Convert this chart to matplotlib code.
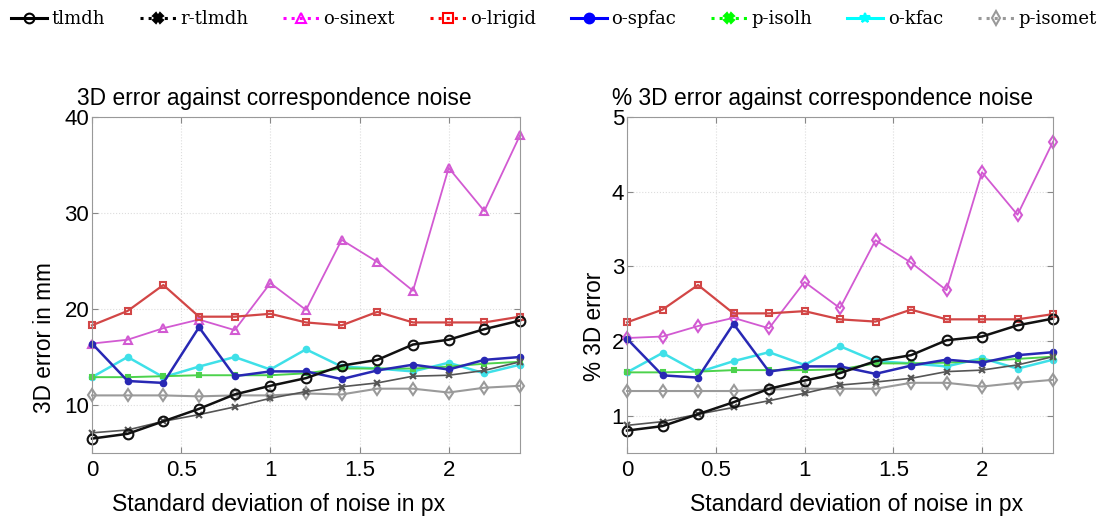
import numpy as np
import matplotlib
matplotlib.use("Agg")
import matplotlib.pyplot as plt
from matplotlib.lines import Line2D

plt.rcParams['font.family'] = 'Liberation Sans'

# noise levels (px)
noise = [0, 0.2, 0.4, 0.6, 0.8, 1.0, 1.2, 1.4, 1.6, 1.8, 2.0, 2.2, 2.4]

# 3D error in mm
mm_tlmdh = [6.5, 7.0, 8.3, 9.6, 11.1, 12.0, 12.8, 14.1, 14.7, 16.3, 16.8, 17.9, 18.8]
mm_rtlmdh = [7.1, 7.4, 8.3, 9.0, 9.8, 10.7, 11.4, 11.9, 12.3, 13.0, 13.1, 13.6, 14.5]
mm_sinext = [16.4, 16.8, 18.0, 18.9, 17.8, 22.7, 19.9, 27.2, 24.9, 21.9, 34.7, 30.2, 38.1]
mm_lrigid = [18.3, 19.8, 22.5, 19.2, 19.2, 19.5, 18.6, 18.3, 19.7, 18.6, 18.6, 18.6, 19.2]
mm_spfac = [16.4, 12.5, 12.3, 18.1, 13.0, 13.5, 13.5, 12.7, 13.6, 14.2, 13.7, 14.7, 15.0]
mm_isolh = [12.9, 12.9, 13.0, 13.1, 13.1, 13.1, 13.3, 13.8, 13.8, 13.8, 14.0, 14.3, 14.5]
mm_kfac = [12.9, 15.0, 12.9, 14.0, 15.0, 13.7, 15.8, 14.0, 13.8, 13.5, 14.4, 13.3, 14.2]
mm_isomet = [11.0, 11.0, 11.0, 10.9, 11.0, 11.0, 11.2, 11.1, 11.7, 11.7, 11.3, 11.8, 12.0]

# % 3D error
pc_tlmdh = [0.80, 0.86, 1.02, 1.18, 1.36, 1.47, 1.57, 1.73, 1.81, 2.01, 2.06, 2.21, 2.30]
pc_rtlmdh = [0.87, 0.92, 1.02, 1.11, 1.20, 1.30, 1.41, 1.45, 1.50, 1.59, 1.61, 1.68, 1.79]
pc_sinext = [2.04, 2.06, 2.20, 2.31, 2.17, 2.79, 2.44, 3.35, 3.05, 2.68, 4.26, 3.69, 4.67]
pc_lrigid = [2.25, 2.42, 2.75, 2.37, 2.37, 2.40, 2.29, 2.26, 2.42, 2.29, 2.29, 2.29, 2.36]
pc_spfac = [2.03, 1.54, 1.51, 2.23, 1.59, 1.66, 1.66, 1.56, 1.67, 1.75, 1.71, 1.81, 1.85]
pc_isolh = [1.58, 1.58, 1.59, 1.61, 1.61, 1.61, 1.62, 1.70, 1.70, 1.71, 1.73, 1.76, 1.79]
pc_kfac = [1.58, 1.84, 1.58, 1.73, 1.85, 1.68, 1.93, 1.73, 1.70, 1.66, 1.77, 1.63, 1.75]
pc_isomet = [1.33, 1.33, 1.33, 1.33, 1.35, 1.36, 1.36, 1.36, 1.44, 1.44, 1.39, 1.44, 1.48]

method_names = ["tlmdh", "r-tlmdh", "o-sinext", "o-lrigid", "o-spfac", "p-isolh", "o-kfac", "p-isomet"]

# plot styles (colour, marker, size, linewidth)
styles = {
    "o-sinext": ("#d25ad2", "^", 6, 1.3),
    "o-lrigid": ("#d24646", "s", 5, 1.6),
    "o-kfac": ("#3fe0e8", "o", 4, 1.8),
    "p-isolh": ("#4cd24c", "s", 3, 1.4),
    "o-spfac": ("#2828b4", "o", 4, 1.8),
    "p-isomet": ("#9a9a9a", "d", 6, 1.5),
    "r-tlmdh": ("#555555", "x", 4, 1.2),
    "tlmdh": ("#111111", "o", 7, 1.8),
}

fig = plt.figure(figsize=(11.13, 5.22), dpi=100)
W, H = 1113, 522

def panel(x0, x1, series, ylim, yticks, title, ylabel, sinext_marker, xlab_pos, ylab_pos):
    ax = fig.add_axes([x0 / W, 1 - 453 / H, (x1 - x0) / W, (453 - 117) / H])
    for name in ["o-sinext", "o-lrigid", "o-kfac", "p-isolh", "o-spfac", "p-isomet", "r-tlmdh", "tlmdh"]:
        c, m, ms, lw = styles[name]
        if name == "o-sinext":
            m = sinext_marker
        filled = name in ["o-spfac", "o-kfac", "p-isolh"]
        ax.plot(noise, series[name], color=c, lw=lw, marker=m, ms=ms,
                mfc=c if filled else "none", mec=c, mew=1.5, clip_on=False)
    ax.set_xlim(0, 2.4)
    ax.set_ylim(*ylim)
    ax.set_xticks([0, 0.5, 1, 1.5, 2])
    ax.set_xticklabels(["0", "0.5", "1", "1.5", "2"])
    ax.set_yticks(yticks)
    ax.grid(True, color="#dddddd", ls=":", lw=0.8)
    ax.tick_params(direction="in", labelsize=16, length=4, color="#888888",
                   top=True, right=True, pad=5)
    ax.tick_params(axis="y", pad=2)
    for s in ax.spines.values():
        s.set_color("#999999")
    ax.set_title(title, fontsize=16.4, pad=9, loc="left", x=-0.035)
    ax.set_xlabel("Standard deviation of noise in px", fontsize=16.6)
    ax.set_ylabel(ylabel, fontsize=16.3)
    ax.xaxis.set_label_coords(*xlab_pos)
    ax.yaxis.set_label_coords(*ylab_pos)
    return ax

mm_series = dict(zip(method_names, [mm_tlmdh, mm_rtlmdh, mm_sinext, mm_lrigid,
                                    mm_spfac, mm_isolh, mm_kfac, mm_isomet]))
pc_series = dict(zip(method_names, [pc_tlmdh, pc_rtlmdh, pc_sinext, pc_lrigid,
                                    pc_spfac, pc_isolh, pc_kfac, pc_isomet]))

panel(92, 520, mm_series, (5, 40), [10, 20, 30, 40],
      "3D error against correspondence noise", "3D error in mm", "^",
      (0.437, -0.12), (-0.084, 0.345))
panel(627, 1053, pc_series, (0.5, 5), [1, 2, 3, 4, 5],
      "% 3D error against correspondence noise", "% 3D error", "d",
      (0.538, -0.12), (-0.05, 0.378))

# legend row on top (styles from the original legend)
leg_styles = [
    ("#000000", "-", "o", "none"),
    ("#000000", ":", "X", "#000000"),
    ("#ff00ff", ":", "^", "none"),
    ("#ff0000", ":", "s", "none"),
    ("#0000ff", "-", "o", "#0000ff"),
    ("#00ff00", ":", "X", "#00ff00"),
    ("#00ffff", "-", "*", "#00ffff"),
    ("#999999", ":", "d", "none"),
]
handles = [Line2D([], [], color=c, ls=ls, lw=2.2, marker=m, ms=7, mfc=fc, mec=c, mew=1.5)
           for c, ls, m, fc in leg_styles]
fig.legend(handles, method_names, loc="lower left", bbox_to_anchor=(0.0, 0.925, 0.995, 0.07),
           mode="expand", ncol=8, frameon=False,
           prop={"family": "DejaVu Serif", "size": 13},
           handlelength=2.0, handletextpad=0.25, columnspacing=1.0, borderaxespad=0.2)

plt.savefig("out.png", dpi=100)
